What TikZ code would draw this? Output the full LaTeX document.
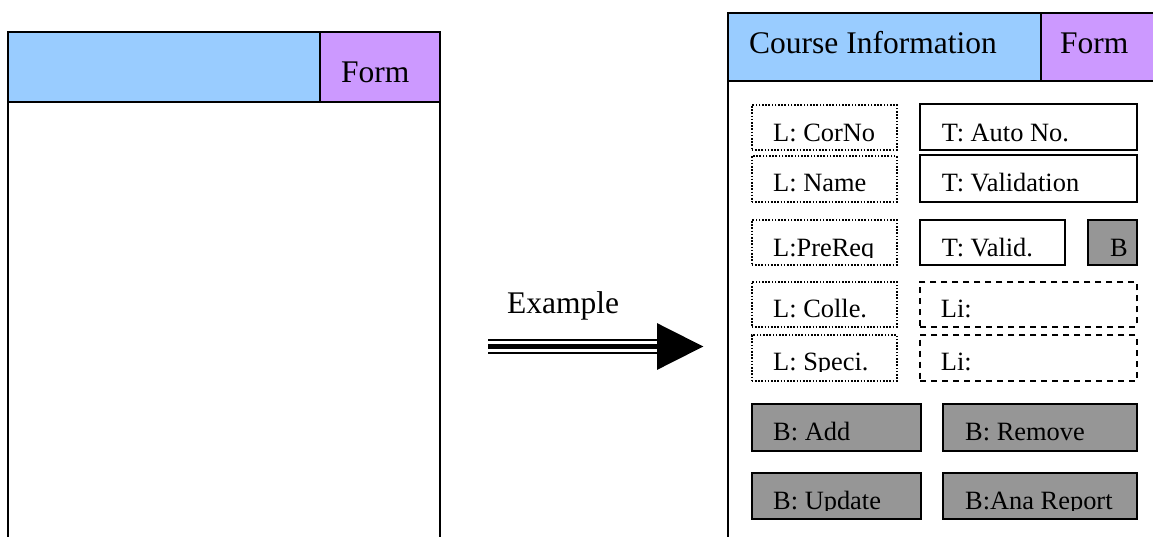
\documentclass[tikz,border=0pt]{standalone}
\usepackage{fontspec}
\setmainfont{Liberation Serif}
\definecolor{hdrblue}{HTML}{99CCFF}
\definecolor{hdrpurple}{HTML}{CC99FF}
\definecolor{btngray}{HTML}{969696}

% a rectangle node given by its two corners: style, name, x1, y1, x2, y2
\newcommand\uibox[6]{%
  \node[#1, anchor=north west, inner sep=0pt, outer sep=0pt,
        minimum width={(#5)-(#3)}, minimum height={(#6)-(#4)}] (#2) at (#3,#4) {};}
% a caption whose glyphs are cut just below the baseline: style, name, x, baseline, text
\newcommand\cuttext[5]{%
  \begin{scope}
    \clip ({#3-6},{#4-45}) rectangle ({#3+330},{#4+1.5});
    \node[#1] (#2) at (#3,#4) {#5};
  \end{scope}}

\begin{document}
\begin{tikzpicture}[x=1pt,y=-1pt,
  cell/.style={draw=black, line width=2pt},
  hdrtext/.style={font=\fontsize{31.5}{36}\selectfont, anchor=base west, inner sep=0pt},
  lbl/.style={font=\fontsize{26.4}{30}\selectfont, anchor=base west, inner sep=0pt},
  labelbox/.style={draw=black, line width=1.6pt, dash pattern=on 1.6pt off 1.6pt},
  textbox/.style={draw=black, line width=1.7pt},
  listbox/.style={draw=black, line width=1.8pt, dash pattern=on 6pt off 5pt},
  btn/.style={draw=black, fill=btngray, line width=1.8pt}]

\path[use as bounding box] (0,0) rectangle (1153,536);
\clip (0,0) rectangle (1153,536);

% ---- empty form template ----
\uibox{cell, fill=white}{tplbody}{8}{31.7}{440}{560}
\uibox{cell, fill=hdrblue}{tpltitle}{8}{31.7}{320}{102}
\uibox{cell, fill=hdrpurple}{tplform}{320}{31.7}{440}{102}
\node[hdrtext] (tplformtxt) at (341,82) {Form};

% ---- arrow ----
\node[hdrtext] (extxt) at (507,313) {Example};
\coordinate (arrowstart) at (488,346.5);
\coordinate (arrowbase) at (657,346.5);
\coordinate (arrowtip) at (703.3,346.5);
\draw[line width=5pt] (arrowstart) -- (arrowbase);
\draw[line width=2.4pt] ([yshift=6.4pt]arrowstart) -- ([yshift=6.4pt]arrowbase);
\draw[line width=2.4pt] ([yshift=-6.4pt]arrowstart) -- ([yshift=-6.4pt]arrowbase);
\fill[black] ([yshift=23.4pt]arrowbase) -- (arrowtip) -- ([yshift=-23.4pt]arrowbase) -- cycle;

% ---- course information form ----
\uibox{cell, fill=white}{cbody}{728}{13}{1200}{560}
\uibox{cell, fill=hdrblue}{ctitle}{728}{13}{1041}{81}
\uibox{cell, fill=hdrpurple}{cform}{1041}{13}{1200}{81}
\node[hdrtext] (ctitletxt) at (749,53) {Course Information};
\node[hdrtext] (cformtxt) at (1060,53) {Form};

\uibox{labelbox}{corno}{751.7}{105}{896.7}{150}
\uibox{textbox}{autono}{920}{104.3}{1136.7}{150}
\uibox{labelbox}{lname}{751.7}{156}{896.7}{201.7}
\uibox{textbox}{tvalidation}{920}{155}{1136.7}{201.7}
\uibox{labelbox}{prereq}{751.7}{220}{896.7}{265}
\uibox{textbox}{tvalid}{920}{220}{1065}{265}
\uibox{btn}{bsmall}{1088.3}{220}{1136.7}{265}
\uibox{labelbox}{colle}{751.7}{281.7}{896.7}{326.7}
\uibox{listbox}{licolle}{920}{281.7}{1136.7}{326.7}
\uibox{labelbox}{speci}{751.7}{335}{896.7}{381}
\uibox{listbox}{lispeci}{920}{335}{1136.7}{381}
\uibox{btn}{badd}{751.7}{404}{920.7}{450.7}
\uibox{btn}{bremove}{943.3}{404}{1136.7}{450.7}
\uibox{btn}{bupdate}{751.7}{472.7}{920.7}{519.3}
\uibox{btn}{breport}{943.3}{472.7}{1136.7}{519.3}

\cuttext{lbl}{cornotxt}{773}{141}{L: CorNo}
\cuttext{lbl}{autonotxt}{941.7}{141}{T: Auto No.}
\cuttext{lbl}{lnametxt}{773}{191}{L: Name}
\cuttext{lbl}{tvalidationtxt}{941.7}{191}{T: Validation}
\cuttext{lbl}{prereqtxt}{773}{256}{L:PreReq}
\cuttext{lbl}{tvalidtxt}{941.7}{256}{T: Valid.}
\cuttext{lbl}{bsmalltxt}{1110}{256}{B}
\cuttext{lbl}{colletxt}{773}{317}{L: Colle.}
\cuttext{lbl}{licolletxt}{940.7}{317}{Li:}
\cuttext{lbl}{specitxt}{773}{370}{L: Speci.}
\cuttext{lbl}{lispecitxt}{940.7}{370}{Li:}
\cuttext{lbl}{baddtxt}{773}{440}{B: Add}
\cuttext{lbl}{bremovetxt}{965}{440}{B: Remove}
\cuttext{lbl}{bupdatetxt}{773}{509}{B: Update}
\cuttext{lbl}{breporttxt}{965}{509}{B:Ana Report}

\end{tikzpicture}
\end{document}
